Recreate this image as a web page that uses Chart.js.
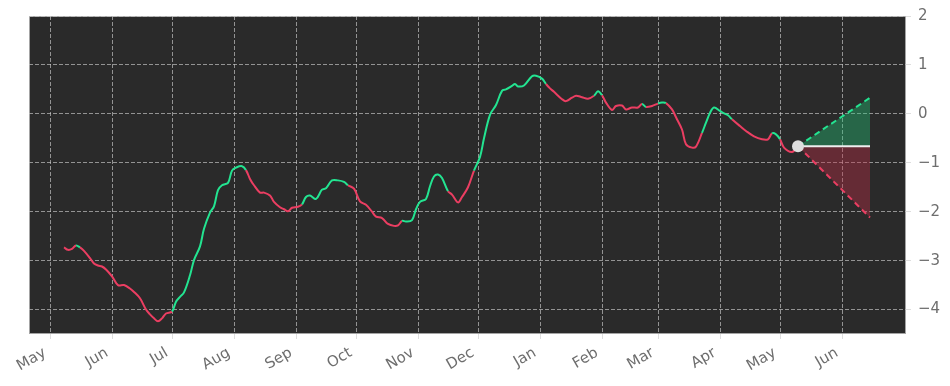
<!DOCTYPE html>
<html>
<head>
<meta charset="utf-8">
<script src="https://cdn.jsdelivr.net/npm/chart.js@4.4.0/dist/chart.umd.min.js"></script>
<style>
html, body { margin: 0; padding: 0; background: #fff; }
</style>
</head>
<body>
<canvas id="chart" width="950" height="386"></canvas>
<script>
// days counted from the first "May" tick
const days = [7, 9, 11, 13, 15, 17, 20, 22, 24, 26, 28, 31, 34, 37, 40, 42, 45, 48, 50, 52, 54, 56, 58, 61,
	63, 65, 67, 70, 72, 75, 77, 80, 82, 84, 86, 89, 91, 93, 96, 98, 100, 102, 105, 107, 110, 112, 115, 117, 119,
	121, 124, 126, 128, 130, 133, 136, 138, 141, 144, 147, 149, 152, 155, 158, 161, 163, 166, 169, 172, 174, 176,
	178, 181, 183, 185, 188, 190, 192, 194, 196, 199, 201, 204, 206, 209, 212, 215, 217, 220, 223, 226, 228, 231,
	232.5, 234, 237, 241, 243, 246, 248, 250, 252, 256, 258, 261, 263, 266, 269, 272, 274, 276, 278, 281, 283, 286,
	288, 291, 294, 296, 298, 301, 304, 306, 308, 311, 313, 316, 318, 321, 323, 326, 328, 330, 332, 335, 337, 339,
	341, 345, 348, 352, 356, 359, 361, 363, 365, 367, 371, 374];
const values = [-2.73, -2.78, -2.76, -2.69, -2.73, -2.80, -2.95, -3.06, -3.10, -3.12, -3.18, -3.32, -3.50, -3.50,
	-3.57, -3.64, -3.77, -4.00, -4.10, -4.18, -4.24, -4.18, -4.08, -4.04, -3.84, -3.74, -3.65, -3.30, -2.99, -2.71,
	-2.35, -2.02, -1.89, -1.56, -1.46, -1.41, -1.16, -1.10, -1.07, -1.15, -1.33, -1.46, -1.61, -1.61, -1.67, -1.80,
	-1.91, -1.95, -1.99, -1.92, -1.90, -1.85, -1.70, -1.67, -1.74, -1.55, -1.52, -1.36, -1.36, -1.39, -1.46, -1.53,
	-1.79, -1.86, -2.00, -2.10, -2.13, -2.25, -2.29, -2.28, -2.19, -2.20, -2.17, -1.95, -1.80, -1.74, -1.48, -1.28,
	-1.24, -1.31, -1.58, -1.65, -1.81, -1.70, -1.50, -1.16, -0.88, -0.50, -0.02, 0.18, 0.47, 0.50, 0.57, 0.61, 0.56,
	0.58, 0.77, 0.78, 0.72, 0.61, 0.52, 0.45, 0.30, 0.26, 0.33, 0.37, 0.34, 0.31, 0.37, 0.46, 0.38, 0.23, 0.08, 0.16,
	0.17, 0.09, 0.13, 0.13, 0.20, 0.14, 0.16, 0.21, 0.23, 0.22, 0.09, -0.07, -0.32, -0.62, -0.69, -0.67, -0.39, -0.18,
	0.02, 0.13, 0.06, 0.01, -0.03, -0.11, -0.25, -0.35, -0.46, -0.52, -0.52, -0.40, -0.42, -0.52, -0.69, -0.78, -0.66];
// stretches where the line is drawn green (rising trend)
const greenSpans = [[12.5, 14.5], [61, 97], [125, 148], [176, 198], [210, 246.5], [269.5, 276], [295, 298],
	[304, 308], [326, 340], [360, 365]];

const forecastDays = [374, 410];
const forecastBase = [-0.66, -0.66];
const forecastUp = [-0.66, 0.33];
const forecastDown = [-0.66, -2.12];

const monthDays = [0, 31, 61, 92, 123, 153, 184, 214, 245, 276, 304, 335, 365, 396];
const monthLabels = ['May', 'Jun', 'Jul', 'Aug', 'Sep', 'Oct', 'Nov', 'Dec', 'Jan', 'Feb', 'Mar', 'Apr', 'May', 'Jun'];
const yTicks = [2, 1, 0, -1, -2, -3, -4];

const GREEN = 'rgb(35, 228, 145)';
const RED = 'rgb(235, 62, 98)';
const GRID = 'rgba(205, 205, 205, 0.65)';
const LABEL = '#6e6e6e';

function pts(xs, ys) {
	return xs.map((x, i) => ({ x: x, y: ys[i] }));
}

function isGreen(d) {
	return greenSpans.some(s => d >= s[0] && d < s[1]);
}

const plotBg = {
	id: 'plotBg',
	beforeDraw(chart) {
		const { ctx, chartArea: a } = chart;
		ctx.save();
		ctx.fillStyle = '#2a2a2a';
		ctx.fillRect(a.left, a.top, a.right - a.left, a.bottom - a.top);
		ctx.restore();
	},
	afterDraw(chart) {
		const { ctx, chartArea: a } = chart;
		ctx.save();
		ctx.strokeStyle = 'rgba(195, 195, 195, 0.8)';
		ctx.lineWidth = 1;
		ctx.strokeRect(a.left + 0.5, a.top + 0.5, a.right - a.left - 1, a.bottom - a.top - 1);
		ctx.restore();
	},
};

const ctx = document.getElementById('chart').getContext('2d');
const myChart = new Chart(ctx, {
	type: 'line',
	data: {
		datasets: [
			{
				order: 0,
				type: 'scatter',
				data: pts([forecastDays[0]], [forecastBase[0]]),
				pointRadius: 6,
				pointHoverRadius: 6,
				backgroundColor: 'rgb(222, 222, 222)',
				borderWidth: 0,
			},
			{
				order: 1,
				data: pts(forecastDays, forecastBase),
				borderColor: 'rgb(238, 238, 238)',
				borderWidth: 2,
				pointRadius: 0,
				fill: false,
			},
			{
				order: 2,
				data: pts(forecastDays, forecastUp),
				borderColor: GREEN,
				borderWidth: 2,
				borderDash: [6, 4],
				pointRadius: 0,
				fill: { target: 1, above: 'rgba(35, 200, 120, 0.38)', below: 'rgba(35, 200, 120, 0.38)' },
			},
			{
				order: 2,
				data: pts(forecastDays, forecastDown),
				borderColor: RED,
				borderWidth: 2,
				borderDash: [6, 4],
				pointRadius: 0,
				fill: { target: 1, above: 'rgba(190, 45, 70, 0.4)', below: 'rgba(190, 45, 70, 0.4)' },
			},
			{
				order: 3,
				data: pts(days, values),
				borderWidth: 2,
				pointRadius: 0,
				tension: 0.35,
				fill: false,
				segment: {
					borderColor: c => isGreen(days[c.p0DataIndex]) ? GREEN : RED,
				},
			},
		],
	},
	options: {
		responsive: false,
		animation: false,
		events: [],
		layout: { padding: { left: 29, top: 16, right: 0, bottom: 0 } },
		plugins: { legend: { display: false }, tooltip: { enabled: false } },
		scales: {
			x: {
				type: 'linear',
				min: -10.5,
				max: 428,
				afterBuildTicks: s => { s.ticks = monthDays.map(v => ({ value: v })); },
				afterFit: s => { s.height = 52; },
				grid: { color: GRID, lineWidth: 1, tickLength: 5, tickColor: GRID },
				border: { display: false, dash: [4, 2] },
				ticks: {
					autoSkip: false,
					minRotation: 30,
					maxRotation: 30,
					padding: 5,
					labelOffset: -5,
					color: LABEL,
					font: { family: 'DejaVu Sans', size: 15 },
					callback: (v, i) => monthLabels[i],
				},
			},
			y: {
				position: 'right',
				min: -4.5,
				max: 2,
				afterBuildTicks: s => { s.ticks = yTicks.map(v => ({ value: v })); },
				afterFit: s => { s.width = 44; },
				grid: { color: GRID, lineWidth: 1, tickLength: 5, tickColor: GRID },
				border: { display: false, dash: [4, 2] },
				ticks: {
					padding: 7,
					color: LABEL,
					font: { family: 'DejaVu Sans', size: 15 },
					callback: v => (v < 0 ? '\u2212' + Math.abs(v) : String(v)),
				},
			},
		},
	},
	plugins: [plotBg],
});
</script>
</body>
</html>
